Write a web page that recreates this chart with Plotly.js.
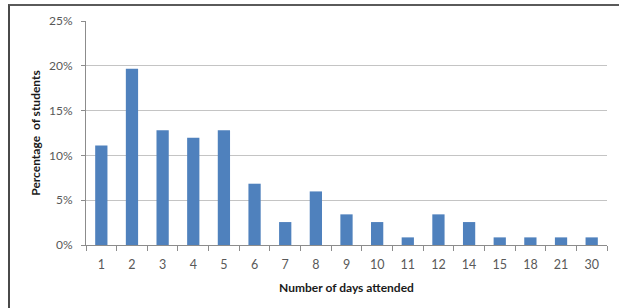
<!DOCTYPE html>
<html>
<head>
<meta charset="utf-8">
<script src="https://cdn.plot.ly/plotly-3.0.1.min.js"></script>
<style>
html,body{margin:0;padding:0;background:#fff;}
#wrap{position:relative;width:619px;height:308px;overflow:hidden;}
#frame{position:absolute;left:8px;top:4px;width:700px;height:400px;border-left:2px solid #4a4a4a;border-top:2px solid #5a5a5a;pointer-events:none;}
#chart{position:absolute;left:0;top:0;width:619px;height:308px;}
</style>
</head>
<body>
<div id="wrap">
<div id="chart"></div>
<div id="frame"></div>
</div>
<script>
const days = ["1","2","3","4","5","6","7","8","9","10","11","12","14","15","18","21","30"];
const percentStudents = [11.1, 19.66, 12.82, 11.97, 12.82, 6.84, 2.56, 5.98, 3.42, 2.56, 0.85, 3.42, 2.56, 0.85, 0.85, 0.85, 0.85];

const trace = {
  type: 'bar',
  x: days,
  y: percentStudents,
  marker: {color: '#4F81BD', line: {width: 0}},
  hoverinfo: 'x+y'
};

const layout = {
  width: 619,
  height: 308,
  margin: {l: 86, r: 12, t: 21, b: 63},
  paper_bgcolor: 'rgba(0,0,0,0)',
  plot_bgcolor: '#ffffff',
  showlegend: false,
  bargap: 0.6,
  font: {family: 'Lato, "Open Sans", sans-serif', color: '#595959'},
  xaxis: {
    type: 'category',
    showline: true,
    linecolor: '#8c8c8c',
    linewidth: 1,
    ticks: 'outside',
    tickson: 'boundaries',
    ticklen: 5,
    tickcolor: '#8c8c8c',
    ticklabelstandoff: 8,
    tickfont: {size: 12.5, color: '#595959'},
    showgrid: false,
    title: {text: 'Number of days attended', font: {size: 12, color: '#1a1a1a', weight: 'bold'}, standoff: 12},
    automargin: false
  },
  yaxis: {
    range: [0, 25],
    dtick: 5,
    ticksuffix: '%',
    showline: true,
    linecolor: '#8c8c8c',
    linewidth: 1,
    ticks: 'outside',
    ticklen: 4,
    tickcolor: '#8c8c8c',
    ticklabelstandoff: 6,
    tickfont: {size: 12, color: '#595959'},
    showgrid: true,
    gridcolor: '#c4c4c4',
    gridwidth: 1,
    zeroline: false,
    title: {text: 'Percentage  of students', font: {size: 12, color: '#1a1a1a', weight: 'bold'}, standoff: 5},
    automargin: false
  }
};

Plotly.newPlot('chart', [trace], layout, {displayModeBar: false, staticPlot: true});
</script>
</body>
</html>
